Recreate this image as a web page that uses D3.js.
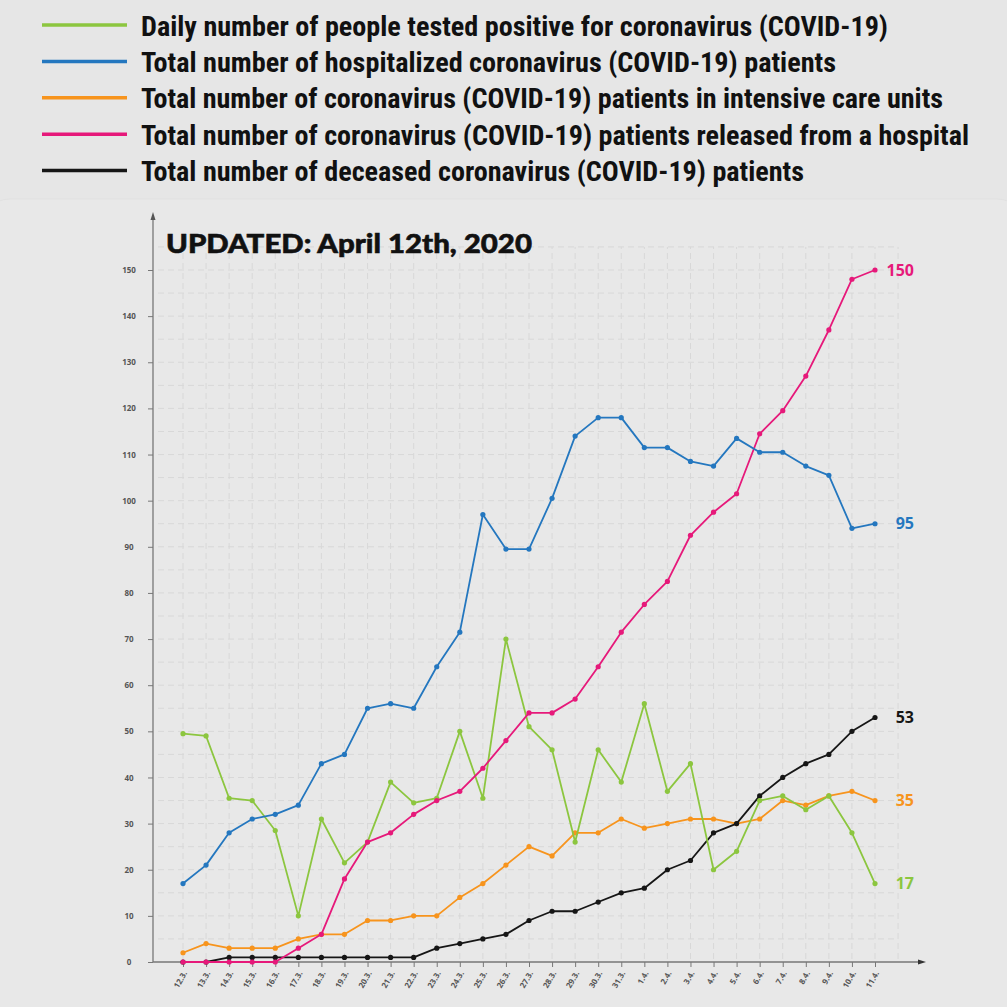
<!DOCTYPE html>
<html>
<head>
<meta charset="utf-8">
<script src="https://cdn.jsdelivr.net/npm/d3@7"></script>
<style>
  html, body { margin: 0; padding: 0; background: #e6e6e6; }
  svg { display: block; }
</style>
</head>
<body>
<svg id="chart" width="1007" height="1007"></svg>
<script>
const categories = ["12.3.","13.3.","14.3.","15.3.","16.3.","17.3.","18.3.","19.3.","20.3.","21.3.","22.3.","23.3.","24.3.","25.3.","26.3.","27.3.","28.3.","29.3.","30.3.","31.3.","1.4.","2.4.","3.4.","4.4.","5.4.","6.4.","7.4.","8.4.","9.4.","10.4.","11.4."];

const positive     = [49.5,49,35.5,35,28.5,10,31,21.5,26,39,34.5,35.5,50,35.5,70,51,46,26,46,39,56,37,43,20,24,35,36,33,36,28,17];
const hospitalized = [17,21,28,31,32,34,43,45,55,56,55,64,71.5,97,89.5,89.5,100.5,114,118,118,111.5,111.5,108.5,107.5,113.5,110.5,110.5,107.5,105.5,94,95];
const intensive    = [2,4,3,3,3,5,6,6,9,9,10,10,14,17,21,25,23,28,28,31,29,30,31,31,30,31,35,34,36,37,35];
const released     = [0,0,0,0,0,3,6,18,26,28,32,35,37,42,48,54,54,57,64,71.5,77.5,82.5,92.5,97.5,101.5,114.5,119.5,127,137,148,150];
const deceased     = [0,0,1,1,1,1,1,1,1,1,1,3,4,5,6,9,11,11,13,15,16,20,22,28,30,36,40,43,45,50,53];

const yTicks = [0,10,20,30,40,50,60,70,80,90,100,110,120,130,140,150];

const seriesNames = [
  "Daily number of people tested positive for coronavirus (COVID-19)",
  "Total number of hospitalized coronavirus (COVID-19) patients",
  "Total number of coronavirus (COVID-19) patients in intensive care units",
  "Total number of coronavirus (COVID-19) patients released from a hospital",
  "Total number of deceased coronavirus (COVID-19) patients"
];
const seriesColors = ["#8cc63f","#2477bf","#f7941d","#e6197a","#161616"];
const legendWidths = [747, 695, 802, 828, 663];
const title = "UPDATED: April 12th, 2020";

const series = [positive, hospitalized, intensive, released, deceased];

const svg = d3.select("#chart");

// panel
svg.append("rect").attr("x", -20).attr("y", 199).attr("width", 1047).attr("height", 830)
  .attr("rx", 30).attr("fill", "#e8e8e8").attr("stroke", "#e1e1e1").attr("stroke-width", 1);

// legend
const legend = svg.append("g");
seriesNames.forEach((name, i) => {
  const cy = 25 + 36.4 * i;
  legend.append("line").attr("x1", 42).attr("x2", 127).attr("y1", cy).attr("y2", cy)
    .attr("stroke", seriesColors[i]).attr("stroke-width", 3.5);
  legend.append("text").attr("x", 141).attr("y", cy + 10.5)
    .attr("font-family", "'Liberation Sans Narrow','Roboto Condensed','Open Sans',sans-serif")
    .attr("font-weight", "bold").attr("font-size", 28).attr("fill", "#111")
    .attr("textLength", legendWidths[i]).attr("lengthAdjust", "spacingAndGlyphs")
    .text(name);
});

// scales
const x = d3.scalePoint().domain(categories).range([183, 875]);
const y = d3.scaleLinear().domain([0, 150]).range([962, 270]);
const step = x.step();

// grid
const grid = svg.append("g");
d3.range(5, 160, 5).forEach(v => {
  grid.append("line").attr("x1", 158).attr("x2", x(categories[categories.length-1]) + step)
    .attr("y1", y(v)).attr("y2", y(v))
    .attr("stroke", "#d8d8d8").attr("stroke-width", 1).attr("stroke-dasharray", "6,4");
});
categories.concat(["__end"]).forEach((c, i) => {
  const xx = c === "__end" ? x(categories[categories.length-1]) + step : x(c);
  grid.append("line").attr("x1", xx).attr("x2", xx).attr("y1", y(0) - 3).attr("y2", y(155))
    .attr("stroke", "#d8d8d8").attr("stroke-width", 1).attr("stroke-dasharray", "6,4");
});

// axes
const yAxis = svg.append("g").attr("transform", "translate(153,0)")
  .call(d3.axisLeft(y).tickValues(yTicks).tickSize(5).tickPadding(16));
yAxis.select(".domain").remove();
yAxis.selectAll(".tick line").attr("stroke", "#777");
yAxis.selectAll(".tick text").attr("font-family", "'Open Sans',sans-serif").attr("font-size", 8)
  .attr("font-weight", "bold").attr("fill", "#555").attr("text-anchor", "middle").attr("x", -24);

const xAxis = svg.append("g").attr("transform", "translate(0,962)")
  .call(d3.axisBottom(x).tickSize(5).tickPadding(4));
xAxis.select(".domain").remove();
xAxis.selectAll(".tick line").attr("stroke", "#777");
xAxis.selectAll(".tick text").attr("font-family", "'Open Sans',sans-serif").attr("font-size", 8)
  .attr("font-weight", "bold").attr("fill", "#555")
  .attr("text-anchor", "end").attr("dy", 0).attr("y", 0)
  .attr("transform", "translate(4,11) rotate(-60)");

// axis lines with arrows
svg.append("line").attr("x1", 153).attr("x2", 153).attr("y1", 962).attr("y2", 218)
  .attr("stroke", "#777").attr("stroke-width", 1.3);
svg.append("path").attr("d", "M150.5,220 L153,212 L155.5,220 Z").attr("fill", "#555");
svg.append("line").attr("x1", 153).attr("x2", 920).attr("y1", 962).attr("y2", 962)
  .attr("stroke", "#777").attr("stroke-width", 1.3);
svg.append("path").attr("d", "M918,959.5 L926,962 L918,964.5 Z").attr("fill", "#333");

// title
svg.append("text").attr("x", 166).attr("y", 253)
  .attr("font-family", "Lato, sans-serif").attr("font-weight", 900).attr("font-size", 27)
  .attr("fill", "#111").attr("stroke", "#111").attr("stroke-width", 0.6)
  .attr("textLength", 366).attr("lengthAdjust", "spacingAndGlyphs")
  .text(title);

// lines
const line = d3.line().x((d, i) => x(categories[i])).y(d => y(d));
const drawOrder = [2, 4, 0, 3, 1];
drawOrder.forEach(si => {
  const g = svg.append("g");
  g.append("path").datum(series[si]).attr("d", line).attr("fill", "none")
    .attr("stroke", seriesColors[si]).attr("stroke-width", 1.8).attr("stroke-linejoin", "round");
  g.selectAll("circle").data(series[si]).join("circle")
    .attr("cx", (d, i) => x(categories[i])).attr("cy", d => y(d)).attr("r", 2.6)
    .attr("fill", seriesColors[si]);
  const last = series[si][series[si].length - 1];
  g.append("text").attr("x", 914).attr("y", y(last)).attr("dy", "0.36em")
    .attr("text-anchor", "end")
    .attr("font-family", "'Open Sans',sans-serif").attr("font-weight", "bold").attr("font-size", 16)
    .attr("fill", seriesColors[si]).text(last);
});
</script>
</body>
</html>
